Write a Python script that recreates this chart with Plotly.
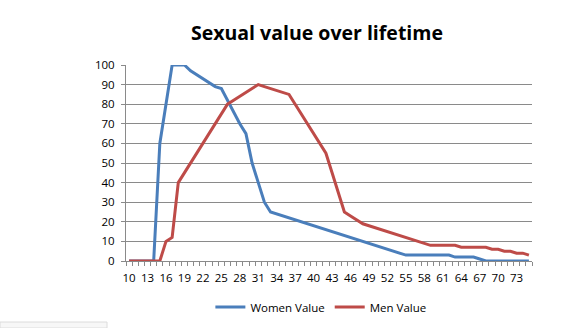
import plotly.graph_objects as go

# Ages on the category axis
ages = list(range(10, 76))

# Value by age, 10 .. 75
women_value = [
    0, 0, 0, 0, 0,                      # 10-14
    60, 80, 100, 100, 100,              # 15-19
    97, 95, 93, 91, 89,                 # 20-24
    88, 82, 76, 70, 65,                 # 25-29
    50, 40, 30, 25, 24,                 # 30-34
    23, 22, 21, 20, 19,                 # 35-39
    18, 17, 16, 15, 14,                 # 40-44
    13, 12, 11, 10, 9,                  # 45-49
    8, 7, 6, 5, 4,                      # 50-54
    3, 3, 3, 3, 3,                      # 55-59
    3, 3, 3, 2, 2,                      # 60-64
    2, 2, 1, 0, 0,                      # 65-69
    0, 0, 0, 0, 0,                      # 70-74
    0,                                  # 75
]

men_value = [
    0, 0, 0, 0, 0,                      # 10-14
    0, 10, 12, 40, 45,                  # 15-19
    50, 55, 60, 65, 70,                 # 20-24
    75, 80, 82, 84, 86,                 # 25-29
    88, 90, 89, 88, 87,                 # 30-34
    86, 85, 80, 75, 70,                 # 35-39
    65, 60, 55, 45, 35,                 # 40-44
    25, 23, 21, 19, 18,                 # 45-49
    17, 16, 15, 14, 13,                 # 50-54
    12, 11, 10, 9, 8,                   # 55-59
    8, 8, 8, 8, 7,                      # 60-64
    7, 7, 7, 7, 6,                      # 65-69
    6, 5, 5, 4, 4,                      # 70-74
    3,                                  # 75
]

x_tick_labels = list(range(10, 74, 3))
y_tick_values = list(range(0, 101, 10))

BLUE = "#4A7EBB"
RED = "#BE4B48"
GRID = "#8A8A8A"
FONT = "Open Sans"

fig = go.Figure()
fig.add_trace(go.Scatter(
    x=ages, y=women_value, name="Women Value", mode="lines",
    line=dict(color=BLUE, width=3), cliponaxis=False,
))
fig.add_trace(go.Scatter(
    x=ages, y=men_value, name="Men Value", mode="lines",
    line=dict(color=RED, width=3), cliponaxis=False,
))

fig.update_layout(
    width=561, height=328,
    margin=dict(l=126, r=29, t=65, b=67, autoexpand=False),
    paper_bgcolor="white", plot_bgcolor="white",
    font=dict(family=FONT, size=11.5, color="black"),
    title=dict(
        text="<b>Sexual value over lifetime</b>",
        font=dict(family=FONT, size=19.5, color="black"),
        xref="container", x=0.565, xanchor="center",
        yref="container", y=1 - 33 / 328, yanchor="middle",
    ),
    showlegend=True,
    legend=dict(
        orientation="h", x=0.48, xanchor="center",
        yref="container", y=1 - 307 / 328, yanchor="middle",
        font=dict(family=FONT, size=11.5, color="black"),
        bgcolor="rgba(0,0,0,0)", itemwidth=30,
    ),
    xaxis=dict(
        range=[9.5, 75.5], automargin=False,
        tickmode="array", tickvals=x_tick_labels,
        ticktext=[str(v) for v in x_tick_labels],
        ticks="", showgrid=False, zeroline=False,
        showline=True, linecolor=GRID, linewidth=1,
        ticklabelstandoff=6,
        minor=dict(tick0=9.5, dtick=1, ticks="outside", ticklen=4,
                   tickcolor=GRID, showgrid=False),
    ),
    yaxis=dict(
        range=[0, 100], automargin=False,
        tickmode="array", tickvals=y_tick_values,
        ticks="outside", ticklen=4, tickcolor=GRID,
        showgrid=True, gridcolor=GRID, gridwidth=1,
        zeroline=False, showline=True, linecolor=GRID, linewidth=1,
        ticklabelstandoff=4,
    ),
    shapes=[dict(
        type="rect", xref="paper", yref="paper",
        x0=-126 / 406, x1=(107 - 126) / 406,
        y0=-67 / 196, y1=(261 - 322) / 196,
        line=dict(color="#DCDCDC", width=1), fillcolor="#F7F7F7",
        layer="below",
    )],
)

fig.write_html("out.html")
